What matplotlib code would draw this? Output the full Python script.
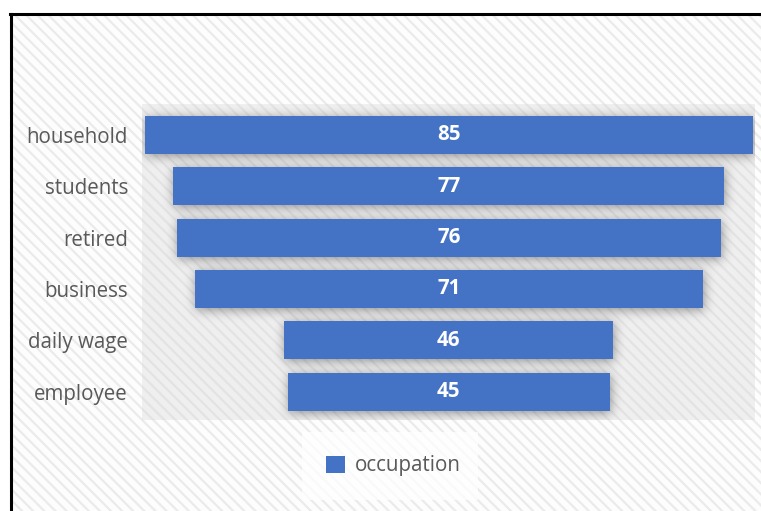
import matplotlib
matplotlib.use("Agg")
import matplotlib.pyplot as plt
from matplotlib.patches import Rectangle
from matplotlib.lines import Line2D
import numpy as np

# Funnel data
categories = ["household", "students", "retired", "business", "daily wage", "employee"]
values = [85, 77, 76, 71, 46, 45]
series_name = "occupation"

BAR_COLOR = "#4472C4"
TEXT_COLOR = "#595959"
FONT = "Open Sans"
FS = 14.8

plt.rcParams["font.family"] = [FONT, "DejaVu Sans"]
plt.rcParams["hatch.linewidth"] = 1.6

W, H = 761, 511
fig = plt.figure(figsize=(W / 100, H / 100), dpi=100)
fig.patch.set_facecolor("white")

# Chart-area background: white with fine diagonal stripes
bg = Rectangle((12 / W, 0), 1, 1 - 16 / H, transform=fig.transFigure,
               facecolor="#fdfdfd", edgecolor="#ebebeb", linewidth=0,
               hatch="\\\\\\", zorder=-2)
fig.patches.append(bg)

# Chart border (top and left edges visible)
fig.add_artist(Line2D([10 / W, 1], [1 - 14.5 / H, 1 - 14.5 / H],
                      transform=fig.transFigure, color="black", lw=2.2))
fig.add_artist(Line2D([10.5 / W, 10.5 / W], [0, 1 - 14.5 / H],
                      transform=fig.transFigure, color="black", lw=2.2))

ax_l, ax_r, ax_t, ax_b = 142, 755, 104, 420
ax = fig.add_axes([ax_l / W, 1 - ax_b / H, (ax_r - ax_l) / W, (ax_b - ax_t) / H])
ax.set_facecolor("none")

# Plot area: light grey striped fill
pa = Rectangle((0, 0), 1, 1, transform=ax.transAxes, facecolor="#efefef",
               edgecolor="#e3e3e3", linewidth=0, hatch="\\\\\\", zorder=0)
ax.add_patch(pa)

y = np.arange(len(categories))
lefts = [-v / 2 for v in values]
bar_h = 0.74

xlim = (-42.9, 42.8)
ylim = (len(categories) - 0.45, -0.6)
ax.set_xlim(*xlim)
ax.set_ylim(*ylim)

# Soft blurred shadow behind the bars
pw, ph = ax_r - ax_l, ax_b - ax_t
mask = np.zeros((ph, pw))
ext = ax.get_window_extent()
for yi, lf, v in zip(y, lefts, values):
    (px0, py0) = ax.transData.transform((lf, yi + bar_h / 2))
    (px1, py1) = ax.transData.transform((lf + v, yi - bar_h / 2))
    c0 = int(round(px0 - ext.x0)) + 1
    c1 = int(round(px1 - ext.x0)) + 1
    r0 = int(round(ext.y1 - py1)) + 2
    r1 = int(round(ext.y1 - py0)) + 2
    mask[max(r0, 0):min(r1, ph), max(c0, 0):min(c1, pw)] = 1.0

sigma = 5.5
kx = np.arange(-18, 19)
kern = np.exp(-kx ** 2 / (2 * sigma ** 2))
kern /= kern.sum()
blur = np.apply_along_axis(lambda r: np.convolve(r, kern, mode="same"), 1, mask)
blur = np.apply_along_axis(lambda c: np.convolve(c, kern, mode="same"), 0, blur)
shadow = np.zeros((ph, pw, 4))
shadow[..., 3] = 0.40 * blur
ax.imshow(shadow, extent=[xlim[0], xlim[1], ylim[0], ylim[1]], origin="upper",
          aspect="auto", zorder=1, interpolation="bilinear")
ax.set_xlim(*xlim)
ax.set_ylim(*ylim)

ax.barh(y, values, left=lefts, height=bar_h, color=BAR_COLOR, zorder=3,
        label=series_name)

for yi, v in zip(y, values):
    ax.text(0, yi, f"{v}", ha="center", va="center", color="white",
            fontsize=FS, fontweight="bold", zorder=4)

ax.set_yticks(y)
ax.set_yticklabels(categories, fontsize=FS, color=TEXT_COLOR)
ax.tick_params(axis="y", length=0, pad=10)
ax.set_xticks([])
for s in ax.spines.values():
    s.set_visible(False)

# Legend with its own pale box
lb = Rectangle((302 / W, 1 - 500 / H), 176 / W, 68 / H, transform=fig.transFigure,
               facecolor="white", alpha=0.75, linewidth=0, zorder=-1)
fig.patches.append(lb)
leg = fig.legend(loc="center", bbox_to_anchor=(393 / W, 1 - 466 / H), frameon=False,
                 fontsize=FS, handlelength=0.95, handleheight=0.95, handletextpad=0.45)
for t in leg.get_texts():
    t.set_color(TEXT_COLOR)

fig.savefig("out.png", dpi=100)
